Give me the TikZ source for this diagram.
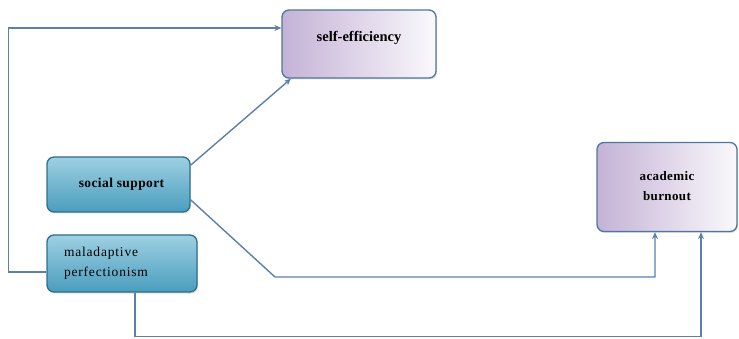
\documentclass[tikz,border=0pt]{standalone}
\usepackage{fontspec}
\setmainfont{Liberation Serif}
\usetikzlibrary{arrows.meta,shadows}
\definecolor{lineblue}{HTML}{5B80AA}
\definecolor{boxedge}{HTML}{4F76A0}
\definecolor{tealedge}{HTML}{2F6E8C}
\definecolor{lilac}{HTML}{C4B2D6}
\definecolor{tealtop}{HTML}{9ED0E2}
\definecolor{tealbot}{HTML}{4A9DBE}

\begin{document}
\begin{tikzpicture}[x=1pt,y=-1pt,
    every node/.style={font=\fontsize{13.5}{20}\selectfont},
    purplebox/.style={rectangle,rounded corners=7pt,draw=boxedge,line width=1.3pt,
      left color=lilac,right color=white!92!lilac,
      drop shadow={opacity=0.25,shadow xshift=1pt,shadow yshift=-1.5pt}},
    tealbox/.style={rectangle,rounded corners=7pt,draw=tealedge,line width=1.3pt,
      top color=tealtop,bottom color=tealbot,
      drop shadow={opacity=0.25,shadow xshift=1pt,shadow yshift=-1.5pt}},
    arr/.style={draw=lineblue,line width=1.4pt,-{Stealth[length=7pt,width=6pt]}}]

    \useasboundingbox (0,0) rectangle (739,339);

    % Outcome boxes
    \node[purplebox,minimum width=154pt,minimum height=68pt] (self) at (359,44)
      {\raisebox{16pt}{\fontsize{14.5}{20}\selectfont\bfseries self-efficiency}};
    \node[purplebox,minimum width=140pt,minimum height=89pt,align=center] (burn) at (667,187)
      {\raisebox{12pt}{\parbox{70pt}{\centering\fontsize{13}{20}\selectfont\bfseries\addfontfeatures{LetterSpace=3}academic\\burnout}}};

    % Predictor boxes
    \node[tealbox,minimum width=143pt,minimum height=55pt] (soc) at (118.5,184.5)
      {\hspace*{6pt}\bfseries\addfontfeatures{LetterSpace=3}social support};
    \node[tealbox,minimum width=150pt,minimum height=57pt,text width=116pt,align=left] (mal) at (122,263.5)
      {\addfontfeatures{LetterSpace=6}maladaptive\\perfectionism};

    % Paths
    \draw[arr] ([yshift=-8.5pt]mal.west) -- ++(-38,0) |- ([yshift=16pt]self.west);
    \draw[arr] (soc.15) -- (self.207);
    \coordinate (bend) at (275,277);
    \draw[arr] (soc.348) -- (bend) -| ([xshift=-12pt]burn.south);
    \draw[arr] ([xshift=13pt]mal.south) -- ++(0,44) -| ([xshift=34pt]burn.south);
  \end{tikzpicture}
\end{document}
